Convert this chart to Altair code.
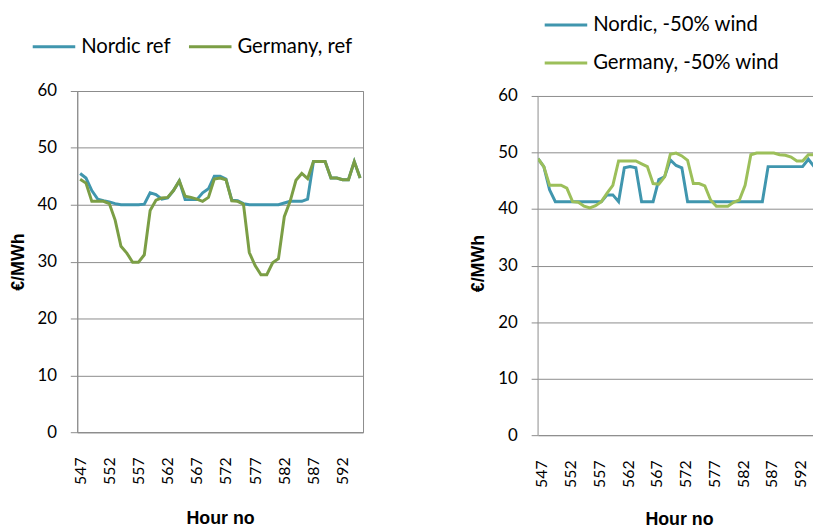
import altair as alt
import pandas as pd

hours = list(range(547, 596))
tick_hours = [547, 552, 557, 562, 567, 572, 577, 582, 587, 592]
y_ticks = [0, 10, 20, 30, 40, 50, 60]

nordic_ref = [45.5, 44.7, 42.5, 41.0, 40.7, 40.5, 40.2, 40.0, 40.0, 40.0,
              40.0, 40.1, 42.1, 41.8, 41.0, 41.2, 42.5, 44.2, 40.9, 40.9,
              40.9, 42.1, 42.8, 45.0, 45.0, 44.5, 40.8, 40.7, 40.2, 40.0,
              40.0, 40.0, 40.0, 40.0, 40.0, 40.3, 40.6, 40.6, 40.6, 41.0,
              47.6, 47.6, 47.6, 44.7, 44.7, 44.4, 44.4, 47.6, 44.7]
germany_ref = [44.5, 43.8, 40.6, 40.6, 40.6, 40.2, 37.3, 32.7, 31.5, 29.9,
               29.9, 31.2, 39.0, 40.8, 41.2, 41.3, 42.5, 44.2, 41.5, 41.3,
               41.0, 40.6, 41.3, 44.5, 44.7, 44.4, 40.7, 40.6, 40.1, 31.6,
               29.3, 27.7, 27.7, 29.8, 30.5, 37.9, 40.6, 44.3, 45.5, 44.6,
               47.6, 47.6, 47.6, 44.7, 44.7, 44.4, 44.4, 47.6, 44.7]
nordic_50 = [48.9, 47.5, 43.4, 41.3, 41.3, 41.3, 41.3, 41.3, 41.3, 41.3,
             41.3, 41.3, 42.5, 42.5, 41.3, 47.3, 47.5, 47.3, 41.3, 41.3,
             41.3, 45.2, 45.7, 48.7, 47.7, 47.3, 41.3, 41.3, 41.3, 41.3,
             41.3, 41.3, 41.3, 41.3, 41.3, 41.3, 41.3, 41.3, 41.3, 41.3,
             47.5, 47.5, 47.5, 47.5, 47.5, 47.5, 47.5, 48.8, 47.5]
germany_50 = [48.9, 47.5, 44.2, 44.2, 44.2, 43.7, 41.3, 41.2, 40.5, 40.2,
              40.6, 41.3, 42.8, 44.2, 48.5, 48.5, 48.5, 48.5, 48.0, 47.5,
              44.5, 44.4, 45.7, 49.7, 49.9, 49.4, 48.6, 44.5, 44.5, 44.1,
              41.6, 40.5, 40.5, 40.5, 41.2, 41.6, 44.2, 49.6, 49.9, 49.9,
              49.9, 49.9, 49.6, 49.5, 49.2, 48.5, 48.5, 49.6, 49.6]

left_series = ["Nordic ref", "Germany, ref"]
left_colors = ["#4096AE", "#7B9E45"]
right_series = ["Nordic, -50% wind", "Germany, -50% wind"]
right_colors = ["#4096AE", "#9CBF5A"]

GRID = "#8c8c8c"
LABEL_FONT = "Lato"
TITLE_FONT = "Liberation Sans"

left_df = pd.DataFrame({
    "hour": hours * 2,
    "value": nordic_ref + germany_ref,
    "series": [left_series[0]] * len(hours) + [left_series[1]] * len(hours),
})
right_df = pd.DataFrame({
    "hour": hours * 2,
    "value": nordic_50 + germany_50,
    "series": [right_series[0]] * len(hours) + [right_series[1]] * len(hours),
})
axis_df = pd.DataFrame({"hour": [hours[0]], "lo": [y_ticks[0]], "hi": [y_ticks[-1]]})


def x_axis(title_pad=25, **kw):
    return alt.Axis(values=tick_hours, title="Hour no", labelAngle=270, grid=False,
                    ticks=False, labelPadding=25, domainColor=GRID, domainWidth=1,
                    labelFont=LABEL_FONT, labelFontSize=16, labelColor="black",
                    titleFont=TITLE_FONT, titleFontSize=18, titleFontWeight="bold",
                    titleColor="black", titlePadding=title_pad, labelFlush=False,
                    labelOverlap=False, labelBound=False, **kw)


def y_axis(**kw):
    return alt.Axis(values=y_ticks, title="€/MWh", tickSize=7, tickColor=GRID,
                    gridColor=GRID, gridWidth=1, domainColor=GRID,
                    labelFont=LABEL_FONT, labelFontSize=17, labelColor="black",
                    labelPadding=14, titleFont=TITLE_FONT, titleFontSize=18,
                    titleFontWeight="bold", titleColor="black", titlePadding=10,
                    **kw)


def legend(**kw):
    return alt.Legend(orient="none", title=None, symbolType="stroke",
                      symbolSize=1849, symbolStrokeWidth=3, labelFont=LABEL_FONT,
                      labelFontSize=20.5, labelColor="black", labelOffset=4.5,
                      labelLimit=400, clipHeight=20, padding=0, **kw)


# Left panel
lx = alt.X("hour:Q", scale=alt.Scale(domain=[546.5, 595.5], nice=False, zero=False),
           axis=x_axis())
ly = alt.Y("value:Q", scale=alt.Scale(domain=[0, 60], nice=False), axis=y_axis())
lcolor = alt.Color("series:N", scale=alt.Scale(domain=left_series, range=left_colors),
                   legend=legend(direction="horizontal", legendX=-46.5, legendY=-55,
                                 columnPadding=17))
lbase = alt.Chart(left_df).encode(x=lx, y=ly, color=lcolor)
left = alt.layer(
    lbase.transform_filter(alt.datum.series == left_series[0]).mark_line(strokeWidth=3),
    lbase.transform_filter(alt.datum.series == left_series[1]).mark_line(strokeWidth=3),
).properties(width=289, height=345, view=alt.ViewBackground(stroke=GRID, strokeWidth=1))

# Right panel (cut off at the window edge)
r_ymax = 60 * 348 / 343
rxs = alt.Scale(domain=[547, 547 + 278 / 5.815], nice=False, zero=False)
rys = alt.Scale(domain=[0, r_ymax], nice=False)
rxa = x_axis(title_pad=23, labelOffset=4, titleX=142.5)
rya = y_axis(domain=False)
rcolor = alt.Color("series:N", scale=alt.Scale(domain=right_series, range=right_colors),
                   legend=legend(direction="vertical", legendX=5.2, legendY=-76.75,
                                 rowPadding=17.5))
rbase = alt.Chart(right_df).encode(
    x=alt.X("hour:Q", scale=rxs, axis=rxa),
    y=alt.Y("value:Q", scale=rys, axis=rya),
    color=rcolor)
axis_line = alt.Chart(axis_df).mark_rule(color=GRID, strokeWidth=1).encode(
    x=alt.X("hour:Q", scale=rxs, axis=rxa),
    y=alt.Y("lo:Q", scale=rys, axis=rya),
    y2="hi:Q")
right = alt.layer(
    axis_line,
    rbase.transform_filter(alt.datum.series == right_series[0]).mark_line(strokeWidth=3, clip=True),
    rbase.transform_filter(alt.datum.series == right_series[1]).mark_line(strokeWidth=3, clip=True),
).properties(width=278, height=348, view=alt.ViewBackground(stroke=None))

chart = alt.hconcat(left, right, spacing=177, bounds="flush").resolve_scale(
    color="independent", x="independent", y="independent"
).properties(
    padding={"left": 0, "top": 4, "right": 0, "bottom": 4}
).configure_view(stroke=None)

chart.save("out.html", embed_options={"renderer": "svg", "actions": False})
